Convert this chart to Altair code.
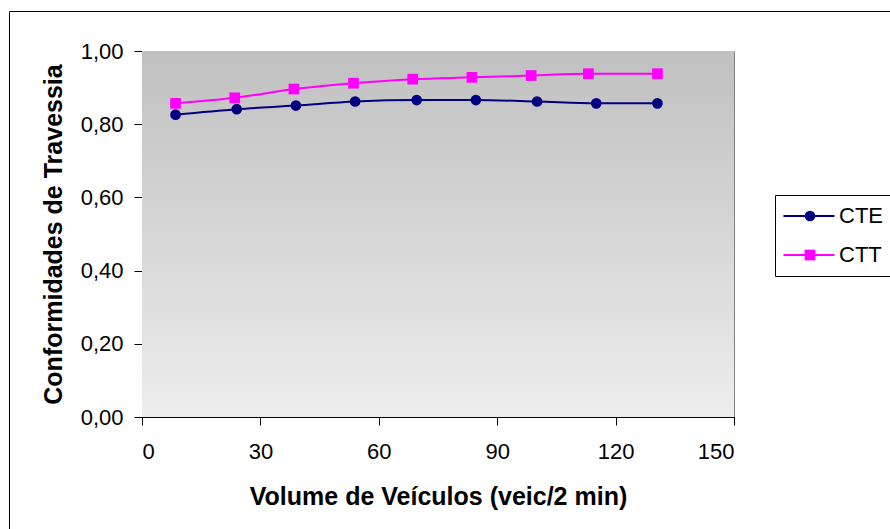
import altair as alt
import pandas as pd

# ---- data ----
series_names = ["CTE", "CTT"]
cte_x = [8.5, 24.0, 39.0, 54.0, 69.6, 84.6, 100.1, 115.1, 130.6]
cte_y = [0.826, 0.841, 0.851, 0.862, 0.866, 0.866, 0.862, 0.857, 0.857]
ctt_x = [8.5, 23.5, 38.5, 53.6, 68.6, 83.6, 98.6, 113.1, 130.6]
ctt_y = [0.857, 0.872, 0.896, 0.912, 0.923, 0.928, 0.933, 0.938, 0.938]
x_ticks = [0, 30, 60, 90, 120, 150]
y_ticks = [0.0, 0.2, 0.4, 0.6, 0.8, 1.0]
series_colors = ["#000080", "#ff00ff"]
series_shapes = ["circle", "square"]

rows = []
for xv, yv in zip(cte_x, cte_y):
    rows.append({"series": "CTE", "x": xv, "y": yv})
for xv, yv in zip(ctt_x, ctt_y):
    rows.append({"series": "CTT", "x": xv, "y": yv})
df = pd.DataFrame(rows)

W, H = 592, 366
FONT = "Liberation Sans"

# legend A: the line part of each legend glyph (drawn by the stroke scale)
legend_lines = alt.Legend(
    title=None,
    orient="none",
    legendX=633,
    legendY=144,
    labelFont=FONT,
    labelFontSize=22,
    labelColor="black",
    strokeColor="black",
    fillColor="white",
    padding=10,
    rowPadding=17,
    symbolType="M-5.1,0H5.1",
    symbolSize=100,
    symbolStrokeWidth=2,
    symbolOffset=13,
    labelOffset=19,
    zindex=0,
)
# legend B: the markers, overlaid on legend A, labels hidden
legend_marks = alt.Legend(
    title=None,
    orient="none",
    legendX=633,
    legendY=144,
    labelFont=FONT,
    labelFontSize=22,
    labelOpacity=0,
    padding=10,
    rowPadding=17,
    symbolSize=115,
    symbolStrokeWidth=0,
    symbolOpacity=1,
    symbolOffset=14,
    labelOffset=19,
    zindex=1,
)

x_enc = alt.X(
    "x:Q",
    scale=alt.Scale(domain=[0, 150], nice=False, zero=False),
    axis=alt.Axis(
        values=x_ticks,
        title="Volume de Veículos (veic/2 min)",
        grid=False,
        tickSize=8,
        labelPadding=16,
        titlePadding=22,
    ),
)
y_enc = alt.Y(
    "y:Q",
    scale=alt.Scale(domain=[0, 1], nice=False),
    axis=alt.Axis(
        values=y_ticks,
        labelExpr="replace(format(datum.value, '.2f'), '.', ',')",
        title="Conformidades de Travessia",
        grid=False,
        tickSize=8,
        labelPadding=11,
        titlePadding=14,
    ),
)

bg = alt.Chart(pd.DataFrame({"k": [0]})).mark_rect(
    color=alt.Gradient(
        gradient="linear",
        stops=[
            alt.GradientStop(color="#c0c0c0", offset=0),
            alt.GradientStop(color="#ededed", offset=1),
        ],
        x1=0, x2=0, y1=0, y2=1,
    )
).encode(x=alt.value(0), x2=alt.value(W), y=alt.value(0), y2=alt.value(H))

frame = alt.Chart(pd.DataFrame({"k": [0]})).mark_rect(
    filled=False, stroke="black", strokeWidth=1
).encode(x=alt.value(-132.5), x2=alt.value(W + 200), y=alt.value(-39.5), y2=alt.value(H + 200))

# stroke scale uses the data-derived domain (sorted: CTE, CTT) so its legend stays separate
lines = alt.Chart(df).mark_line(strokeWidth=2, interpolate="monotone").encode(
    x=x_enc,
    y=y_enc,
    stroke=alt.Stroke("series:N", scale=alt.Scale(range=series_colors),
                      legend=legend_lines),
)

points = alt.Chart(df).mark_point(filled=True, size=115, opacity=1).encode(
    x=x_enc,
    y=y_enc,
    color=alt.Color("series:N", scale=alt.Scale(domain=series_names, range=series_colors),
                    legend=legend_marks),
    shape=alt.Shape("series:N", scale=alt.Scale(domain=series_names, range=series_shapes),
                    legend=legend_marks),
)

chart = (
    alt.layer(frame, bg, lines, points)
    .properties(
        width=W,
        height=H,
        autosize=alt.AutoSizeParams(type="none"),
        padding={"left": 142, "top": 51, "right": 156, "bottom": 112},
        background="white",
    )
    .configure_view(stroke="#808080", strokeWidth=1)
    .configure_axis(
        labelFont=FONT,
        labelFontSize=22,
        labelColor="black",
        titleFont=FONT,
        titleFontSize=25,
        titleFontWeight="bold",
        titleColor="black",
        domainColor="black",
        tickColor="black",
        domainWidth=1,
        tickWidth=1,
    )
)

chart.save("out.html", embed_options={"renderer": "svg", "actions": False})
